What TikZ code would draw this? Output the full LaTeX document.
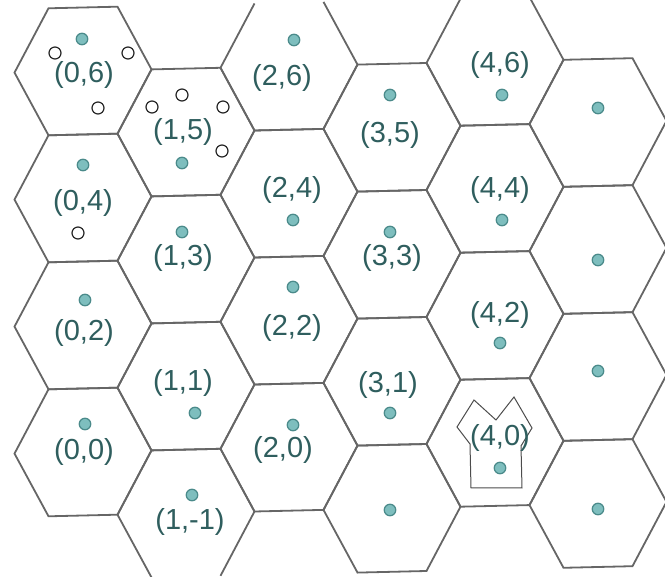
\documentclass[tikz,border=0pt]{standalone}
\usepackage{fontspec}
\setmainfont{Liberation Sans}
\definecolor{hexgray}{HTML}{666666}
\definecolor{labteal}{HTML}{2F5E5E}
\definecolor{dotfill}{HTML}{7EBEBE}
\definecolor{dotedge}{HTML}{4A8A8A}
\begin{document}
\begin{tikzpicture}[x=1pt,y=-1pt,
  hexline/.style={draw=hexgray,line width=1.8pt,line join=miter},
  lab/.style={text=labteal,font=\fontsize{29}{30}\selectfont,inner sep=0pt},
  dot/.style={circle,fill=dotfill,draw=dotedge,line width=1.2pt,minimum size=11.5pt,inner sep=0pt},
  ring/.style={circle,fill=white,draw=black!85,line width=1.2pt,minimum size=12pt,inner sep=0pt},
  treeline/.style={draw=black!70,line width=1pt,line join=miter}]
\useasboundingbox (0,0) rectangle (665,577);
\clip (0,0) rectangle (665,577);
\begin{scope}[cm={1,0.0233,0,1,(0pt,-1.93pt)}]
  % closed hexagons
  \foreach \c/\r in {0/6,0/4,0/2,0/0,1/5,1/3,1/1,2/4,2/2,2/0,3/5,3/3,3/1,3/-1,4/4,4/2,4/0,5/5,5/3,5/1,5/-1}{
    \pgfmathsetmacro\hx{83+103*\c}
    \pgfmathsetmacro\hy{71+(6-(\r))*63.5}
    \draw[hexline] ({\hx-68.5},\hy) -- ({\hx-34.5},{\hy-63.5}) -- ({\hx+34.5},{\hy-63.5})
      -- ({\hx+68.5},\hy) -- ({\hx+34.5},{\hy+63.5}) -- ({\hx-34.5},{\hy+63.5}) -- cycle;
  }
  % hexagons open at the top edge of the picture
  \foreach \c/\r in {2/6,4/6}{
    \pgfmathsetmacro\hx{83+103*\c}
    \pgfmathsetmacro\hy{71+(6-(\r))*63.5}
    \draw[hexline] ({\hx+34.5},{\hy-63.5}) -- ({\hx+68.5},\hy) -- ({\hx+34.5},{\hy+63.5})
      -- ({\hx-34.5},{\hy+63.5}) -- ({\hx-68.5},\hy) -- ({\hx-34.5},{\hy-63.5});
  }
  % hexagon open at the bottom edge of the picture
  \foreach \c/\r in {1/-1}{
    \pgfmathsetmacro\hx{83+103*\c}
    \pgfmathsetmacro\hy{71+(6-(\r))*63.5}
    \draw[hexline] ({\hx+34.5},{\hy+63.5}) -- ({\hx+68.5},\hy) -- ({\hx+34.5},{\hy-63.5})
      -- ({\hx-34.5},{\hy-63.5}) -- ({\hx-68.5},\hy) -- ({\hx-34.5},{\hy+63.5});
  }
\end{scope}

% outline in cell (4,0)
\draw[treeline] (471,488) -- (470,444) -- (457,427) -- (474,400) -- (496,420)
  -- (514,397) -- (532,428) -- (521,446) -- (522,488) -- cycle;

% labels
\node[lab] (L06) at (84,75) {(0,6)};
\node[lab] (L15) at (183,132) {(1,5)};
\node[lab] (L26) at (282,78) {(2,6)};
\node[lab] (L35) at (390,135) {(3,5)};
\node[lab] (L46) at (500,65) {(4,6)};
\node[lab] (L04) at (83,203) {(0,4)};
\node[lab] (L13) at (183,258) {(1,3)};
\node[lab] (L24) at (292,190) {(2,4)};
\node[lab] (L33) at (392,258) {(3,3)};
\node[lab] (L44) at (500,190) {(4,4)};
\node[lab] (L02) at (84,333) {(0,2)};
\node[lab] (L11) at (183,383) {(1,1)};
\node[lab] (L22) at (292,328) {(2,2)};
\node[lab] (L31) at (388,385) {(3,1)};
\node[lab] (L42) at (500,315) {(4,2)};
\node[lab] (L00) at (84,452) {(0,0)};
\node[lab] (L20) at (283,450) {(2,0)};
\node[lab] (L40) at (500,438) {(4,0)};
\node[lab] (L1m1) at (190,522) {(1,-1)};

% filled dots
\node[dot] (D06) at (82,39) {};
\node[dot] (D15) at (182,163) {};
\node[dot] (D26) at (294,40) {};
\node[dot] (D35) at (390,95) {};
\node[dot] (D46) at (502,95) {};
\node[dot] (D55) at (598,108) {};
\node[dot] (D04) at (83,165) {};
\node[dot] (D13) at (182,232) {};
\node[dot] (D24) at (293,220) {};
\node[dot] (D33) at (390,232) {};
\node[dot] (D44) at (502,220) {};
\node[dot] (D53) at (598,260) {};
\node[dot] (D02) at (85,300) {};
\node[dot] (D22) at (293,287) {};
\node[dot] (D42) at (500,343) {};
\node[dot] (D51) at (598,371) {};
\node[dot] (D11) at (195,413) {};
\node[dot] (D31) at (390,413) {};
\node[dot] (D00) at (85,424) {};
\node[dot] (D20) at (293,425) {};
\node[dot] (D40) at (500,468) {};
\node[dot] (D1m1) at (192,495) {};
\node[dot] (D3m1) at (390,510) {};
\node[dot] (D5m1) at (598,509) {};

% hollow circles
\node[ring] (R1) at (55,53) {};
\node[ring] (R2) at (128,53) {};
\node[ring] (R3) at (98,108) {};
\node[ring] (R4) at (152,107) {};
\node[ring] (R5) at (182,95) {};
\node[ring] (R6) at (223,107) {};
\node[ring] (R7) at (222,151) {};
\node[ring] (R8) at (78,233) {};
\end{tikzpicture}
\end{document}
